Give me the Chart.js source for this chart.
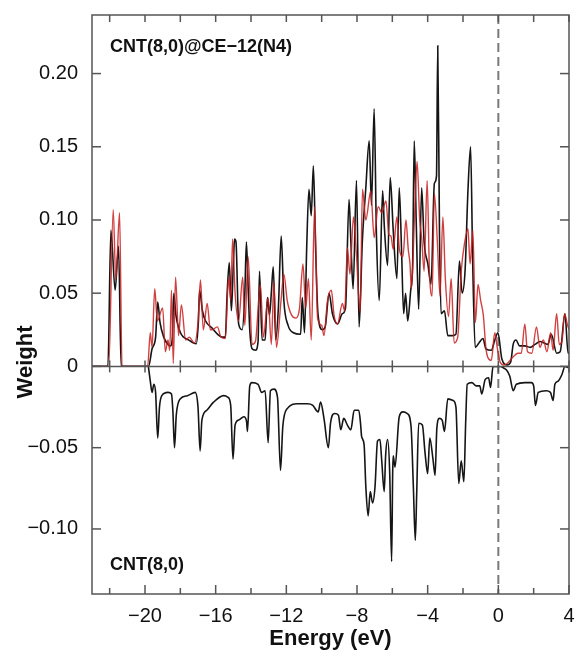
<!DOCTYPE html>
<html>
<head>
<meta charset="utf-8">
<script src="https://cdn.jsdelivr.net/npm/chart.js@4.4.1/dist/chart.umd.min.js"></script>
<style>html,body{margin:0;padding:0;background:#fff}</style>
</head>
<body>
<canvas id="grafico-pdos" width="576" height="654"></canvas>
<script>
// DADOS (energia em eV, peso)
var topBlackE = [-23, -22.1, -21.93, -21.69, -21.5, -21.35, -19.8, -19.6, -19.4, -19.28, -19.15, -18.94, -18.7, -18.56, -18.45, -18.37, -18.25, -17.99, -17.52, -17.1, -16.98, -16.91, -16.75, -16.57, -16.19, -15.9, -15.64, -15.45, -15.36, -15.23, -15.11, -15.0, -14.93, -14.85, -14.7, -14.5, -14.35, -14.26, -14.15, -14.07, -13.94, -13.75, -13.6, -13.52, -13.37, -13.2, -13.07, -12.95, -12.85, -12.74, -12.6, -12.45, -12.29, -12.14, -11.9, -11.6, -11.19, -11.1, -10.97, -10.85, -10.72, -10.59, -10.47, -10.34, -10.21, -9.96, -9.8, -9.58, -9.39, -9.1, -8.83, -8.65, -8.45, -8.35, -8.22, -8.03, -7.88, -7.7, -7.5, -7.31, -7.18, -7.03, -6.9, -6.74, -6.55, -6.45, -6.27, -6.12, -5.95, -5.74, -5.61, -5.48, -5.36, -5.25, -5.13, -4.96, -4.85, -4.76, -4.65, -4.51, -4.34, -4.2, -3.99, -3.81, -3.62, -3.5, -3.43, -3.33, -3.24, -3.05, -2.86, -2.6, -2.4, -2.2, -2.05, -1.88, -1.72, -1.57, -1.45, -1.31, -1.1, -0.87, -0.7, -0.4, -0.2, -0.02, 0.2, 0.5, 0.7, 0.84, 1.0, 1.2, 1.5, 1.8, 2.07, 2.36, 2.6, 2.8, 3.0, 3.3, 3.5, 3.77, 3.95, 4.0];
var topBlackW = [0, 0, 0.093, 0.052, 0.082, 0, 0, 0.012, 0.02, 0.044, 0.03, 0.02, 0.015, 0.014, 0.02, 0.05, 0.035, 0.023, 0.018, 0.0155, 0.03, 0.052, 0.038, 0.031, 0.026, 0.022, 0.02, 0.02, 0.047, 0.071, 0.038, 0.07, 0.087, 0.085, 0.029, 0.025, 0.05, 0.085, 0.05, 0.025, 0.012, 0.011, 0.017, 0.065, 0.018, 0.018, 0.047, 0.035, 0.05, 0.068, 0.018, 0.04, 0.089, 0.045, 0.028, 0.023, 0.022, 0.047, 0.023, 0.08, 0.121, 0.103, 0.137, 0.079, 0.036, 0.025, 0.027, 0.05, 0.036, 0.029, 0.036, 0.04, 0.114, 0.086, 0.053, 0.127, 0.027, 0.085, 0.122, 0.154, 0.11, 0.176, 0.09, 0.045, 0.12, 0.095, 0.069, 0.129, 0.093, 0.06, 0.122, 0.08, 0.036, 0.05, 0.031, 0.052, 0.07, 0.154, 0.1, 0.039, 0.122, 0.085, 0.07, 0.056, 0.125, 0.13, 0.219, 0.09, 0.036, 0.038, 0.021, 0.021, 0.022, 0.072, 0.05, 0.066, 0.12, 0.15, 0.07, 0.013, 0.016, 0.019, 0.012, 0.011, 0.018, 0.023, 0.005, 0.001, 0.003, 0.015, 0.018, 0.014, 0.014, 0.013, 0.015, 0.017, 0.016, 0.015, 0.022, 0.009, 0.01, 0.036, 0.009, 0.01];

var topRedE = [-23, -22.05, -21.8, -21.65, -21.44, -21.3, -19.85, -19.7, -19.6, -19.45, -19.3, -19.0, -18.85, -18.7, -18.6, -18.5, -18.4, -18.27, -18.1, -17.94, -17.7, -17.5, -17.2, -17.0, -16.86, -16.7, -16.48, -16.3, -16.2, -15.9, -15.7, -15.45, -15.27, -15.15, -15.04, -14.9, -14.7, -14.47, -14.35, -14.16, -13.94, -13.75, -13.47, -13.3, -13.03, -12.85, -12.7, -12.56, -12.3, -12.14, -11.95, -11.7, -11.45, -11.25, -11.06, -10.9, -10.75, -10.59, -10.4, -10.23, -10.0, -9.87, -9.67, -9.45, -9.3, -9.1, -8.83, -8.7, -8.54, -8.4, -8.2, -8.05, -7.82, -7.69, -7.5, -7.22, -7.03, -6.8, -6.6, -6.36, -6.2, -6.08, -5.95, -5.74, -5.6, -5.4, -5.23, -5.1, -5.0, -4.92, -4.75, -4.6, -4.45, -4.34, -4.2, -4.03, -3.9, -3.75, -3.62, -3.45, -3.3, -3.14, -3.0, -2.82, -2.67, -2.5, -2.3, -2.1, -1.9, -1.72, -1.6, -1.44, -1.3, -1.15, -1.0, -0.85, -0.7, -0.59, -0.4, -0.2, -0.05, 0.1, 0.3, 0.5, 0.8, 1.1, 1.3, 1.5, 1.65, 1.9, 2.16, 2.35, 2.55, 2.75, 2.96, 3.1, 3.3, 3.45, 3.6, 3.75, 3.9, 4.0];
var topRedW = [0, 0, 0.107, 0.059, 0.105, 0, 0, 0.023, 0.013, 0.053, 0.031, 0.04, 0.01, 0.018, 0.011, 0.052, 0.002, 0.061, 0.021, 0.042, 0.018, 0.02, 0.016, 0.03, 0.059, 0.025, 0.043, 0.025, 0.025, 0.027, 0.02, 0.019, 0.061, 0.045, 0.087, 0.05, 0.031, 0.061, 0.028, 0.075, 0.015, 0.017, 0.056, 0.02, 0.047, 0.015, 0.058, 0.013, 0.045, 0.063, 0.045, 0.035, 0.033, 0.04, 0.07, 0.04, 0.06, 0.018, 0.109, 0.033, 0.028, 0.021, 0.045, 0.052, 0.035, 0.029, 0.043, 0.038, 0.081, 0.063, 0.102, 0.08, 0.037, 0.121, 0.1, 0.12, 0.088, 0.109, 0.105, 0.113, 0.09, 0.089, 0.08, 0.102, 0.08, 0.075, 0.1, 0.08, 0.07, 0.053, 0.1, 0.14, 0.1, 0.088, 0.065, 0.127, 0.065, 0.048, 0.118, 0.085, 0.048, 0.102, 0.06, 0.034, 0.06, 0.016, 0.02, 0.065, 0.085, 0.094, 0.07, 0.093, 0.03, 0.056, 0.045, 0.035, 0.012, 0.006, 0.004, 0.023, 0.012, 0.003, 0.001, 0.002, 0.006, 0.009, 0.009, 0.029, 0.01, 0.009, 0.027, 0.013, 0.018, 0.01, 0.023, 0.011, 0.036, 0.015, 0.017, 0.036, 0.029, 0.025];

var bottomE = [-19.81, -19.7, -19.6, -19.5, -19.4, -19.28, -19.18, -19.05, -18.7, -18.5, -18.42, -18.33, -18.23, -18.01, -17.6, -17.16, -17.0, -16.88, -16.78, -16.5, -16.12, -15.55, -15.3, -15.15, -15.02, -14.9, -14.7, -14.4, -14.25, -14.2, -14.07, -13.95, -13.6, -13.4, -13.2, -13.03, -12.9, -12.7, -12.5, -12.33, -12.2, -11.95, -11.38, -10.8, -10.5, -10.2, -10.06, -9.87, -9.62, -9.5, -9.26, -9.05, -8.92, -8.75, -8.55, -8.35, -8.16, -7.9, -7.8, -7.74, -7.6, -7.5, -7.37, -7.25, -7.12, -6.98, -6.84, -6.7, -6.6, -6.46, -6.38, -6.27, -6.15, -6.04, -5.98, -5.95, -5.85, -5.61, -5.4, -5.15, -4.94, -4.81, -4.7, -4.62, -4.51, -4.3, -4.15, -4.0, -3.88, -3.7, -3.58, -3.48, -3.34, -3.18, -3.05, -2.86, -2.55, -2.4, -2.24, -2.1, -1.95, -1.85, -1.76, -1.5, -1.25, -1.05, -0.94, -0.74, -0.55, -0.44, -0.3, 0.13, 0.3, 0.45, 0.65, 0.84, 1.02, 1.5, 1.88, 2.0, 2.1, 2.26, 2.7, 2.95, 3.1, 3.2, 3.39, 3.6, 3.77, 4.0];
var bottomW = [0, -0.009, -0.016, -0.011, -0.016, -0.044, -0.025, -0.018, -0.016, -0.017, -0.028, -0.05, -0.03, -0.02, -0.018, -0.016, -0.025, -0.052, -0.033, -0.027, -0.022, -0.018, -0.019, -0.024, -0.057, -0.036, -0.033, -0.031, -0.034, -0.04, -0.012, -0.01, -0.011, -0.016, -0.015, -0.047, -0.015, -0.014, -0.019, -0.064, -0.037, -0.026, -0.023, -0.023, -0.024, -0.028, -0.022, -0.032, -0.05, -0.035, -0.029, -0.03, -0.039, -0.032, -0.036, -0.039, -0.027, -0.027, -0.035, -0.043, -0.048, -0.074, -0.092, -0.077, -0.084, -0.074, -0.046, -0.045, -0.058, -0.077, -0.055, -0.045, -0.065, -0.12, -0.065, -0.055, -0.062, -0.031, -0.028, -0.029, -0.037, -0.074, -0.107, -0.078, -0.035, -0.036, -0.053, -0.066, -0.044, -0.057, -0.067, -0.038, -0.032, -0.033, -0.04, -0.02, -0.021, -0.025, -0.072, -0.058, -0.071, -0.035, -0.011, -0.01, -0.012, -0.012, -0.017, -0.008, -0.007, -0.013, 0, 0, -0.001, -0.002, -0.006, -0.015, -0.011, -0.01, -0.01, -0.012, -0.024, -0.016, -0.015, -0.016, -0.021, -0.011, -0.009, -0.005, 0, -0.001];

// EIXOS
var xTicks = [-20, -16, -12, -8, -4, 0, 4];
var xMinorTicks = [-22, -18, -14, -10, -6, -2, 2];
var yTopTicks = [0, 0.05, 0.10, 0.15, 0.20];
var yBottomTicks = [-0.10, -0.05];

var FONTE = "'Liberation Sans', Arial, Helvetica, sans-serif";

function toPoints(xs, ys) {
    return xs.map(function(v, i) { return { x: v, y: ys[i] }; });
}

function fmtY(v) {
    if (v === 0) return '0';
    return v.toFixed(2).replace('-', '\u2212');
}

function fmtX(v) {
    return String(v).replace('-', '\u2212');
}

// zera o espaco extra que o Chart.js reserva para os rotulos das pontas
function semPadding(s) {
    s.paddingTop = 0;
    s.paddingBottom = 0;
    s.paddingLeft = 0;
    s.paddingRight = 0;
}

// moldura, ticks internos, linha tracejada e rotulos
var molduraPlugin = {
    id: 'moldura',
    beforeDatasetsDraw: function(chart) {
        var ctx = chart.ctx, a = chart.chartArea;
        var px = chart.scales.x.getPixelForValue(0);
        ctx.save();
        ctx.strokeStyle = '#7a7a7a';
        ctx.lineWidth = 2;
        ctx.setLineDash([9, 5]);
        ctx.beginPath();
        ctx.moveTo(px, a.top);
        ctx.lineTo(px, a.bottom);
        ctx.stroke();
        ctx.restore();
    },
    afterDraw: function(chart) {
        var ctx = chart.ctx, a = chart.chartArea;
        var x = chart.scales.x, yt = chart.scales.yTop, yb = chart.scales.yBot;
        var y0 = yt.getPixelForValue(0);
        ctx.save();
        ctx.strokeStyle = '#555';
        ctx.lineWidth = 1.5;
        function seg(x1, y1, x2, y2) {
            ctx.beginPath(); ctx.moveTo(x1, y1); ctx.lineTo(x2, y2); ctx.stroke();
        }
        ctx.strokeRect(a.left, a.top, a.right - a.left, a.bottom - a.top);
        seg(a.left, y0, a.right, y0);
        xTicks.concat(xMinorTicks).forEach(function(v) {
            var p = x.getPixelForValue(v);
            var len = xTicks.indexOf(v) >= 0 ? 9 : 6;
            seg(p, a.top, p, a.top + 7);
            seg(p, y0 - 6, p, y0 + 6);
            seg(p, a.bottom, p, a.bottom - len);
        });
        yTopTicks.forEach(function(v) {
            var p = yt.getPixelForValue(v);
            seg(a.left, p, a.left + 9, p);
            seg(a.right, p, a.right - 9, p);
        });
        yBottomTicks.forEach(function(v) {
            var p = yb.getPixelForValue(v);
            seg(a.left, p, a.left + 9, p);
            seg(a.right, p, a.right - 9, p);
        });
        ctx.fillStyle = '#111';
        ctx.textBaseline = 'middle';
        ctx.font = 'bold 18px ' + FONTE;
        ctx.fillText('CNT(8,0)@CE\u221212(N4)', 110, 47);
        ctx.fillText('CNT(8,0)', 110, 565);
        ctx.font = 'bold 22px ' + FONTE;
        ctx.translate(26, 362);
        ctx.rotate(-Math.PI / 2);
        ctx.textAlign = 'center';
        ctx.fillText('Weight', 0, 0);
        ctx.restore();
    }
};

var ctx = document.getElementById('grafico-pdos').getContext('2d');

var grafico = new Chart(ctx, {
    type: 'line',
    data: {
        datasets: [{
            label: 'CNT(8,0)@CE-12(N4) red',
            data: toPoints(topRedE, topRedW),
            yAxisID: 'yTop',
            borderColor: 'rgba(200, 30, 30, 0.85)',
            borderWidth: 1.4,
            pointRadius: 0,
            cubicInterpolationMode: 'monotone',
            order: 0
        }, {
            label: 'CNT(8,0)@CE-12(N4)',
            data: toPoints(topBlackE, topBlackW),
            yAxisID: 'yTop',
            borderColor: '#151515',
            borderWidth: 1.6,
            pointRadius: 0,
            cubicInterpolationMode: 'monotone',
            order: 1
        }, {
            label: 'CNT(8,0)',
            data: toPoints(bottomE, bottomW),
            yAxisID: 'yBot',
            borderColor: '#151515',
            borderWidth: 1.6,
            pointRadius: 0,
            cubicInterpolationMode: 'monotone',
            order: 2
        }]
    },
    options: {
        responsive: false,
        animation: false,
        devicePixelRatio: 1,
        layout: { padding: { top: 15, right: 7, left: 0, bottom: 0 } },
        plugins: { legend: { display: false }, tooltip: { enabled: false } },
        scales: {
            x: {
                type: 'linear',
                min: -23,
                max: 4,
                grid: { display: false, drawTicks: false },
                border: { display: false },
                afterBuildTicks: function(s) { s.ticks = xTicks.map(function(v) { return { value: v }; }); },
                afterFit: function(s) { s.height = 60; semPadding(s); },
                ticks: {
                    autoSkip: false,
                    maxRotation: 0,
                    padding: 10,
                    color: '#111',
                    font: { family: FONTE, size: 20 },
                    callback: function(v) { return fmtX(v); }
                },
                title: {
                    display: true,
                    text: 'Energy (eV)',
                    color: '#111',
                    font: { family: FONTE, size: 22, weight: 'bold' },
                    padding: { top: 0, bottom: 2 }
                }
            },
            // o eixo definido por ultimo fica em cima na pilha
            yBot: {
                type: 'linear',
                position: 'left',
                stack: 'painel',
                stackWeight: 228,
                min: -0.14,
                max: 0,
                grid: { display: false, drawTicks: false },
                border: { display: false },
                afterBuildTicks: function(s) { s.ticks = yBottomTicks.map(function(v) { return { value: v }; }); },
                afterFit: function(s) { s.width = 92; semPadding(s); },
                ticks: {
                    padding: 14,
                    color: '#111',
                    font: { family: FONTE, size: 20 },
                    callback: function(v) { return fmtY(v); }
                }
            },
            yTop: {
                type: 'linear',
                position: 'left',
                stack: 'painel',
                stackWeight: 352,
                min: 0,
                max: 0.24,
                grid: { display: false, drawTicks: false },
                border: { display: false },
                afterBuildTicks: function(s) { s.ticks = yTopTicks.map(function(v) { return { value: v }; }); },
                afterFit: function(s) { s.width = 92; semPadding(s); },
                ticks: {
                    padding: 14,
                    color: '#111',
                    font: { family: FONTE, size: 20 },
                    callback: function(v) { return fmtY(v); }
                }
            }
        }
    },
    plugins: [molduraPlugin]
});
</script>
</body>
</html>
